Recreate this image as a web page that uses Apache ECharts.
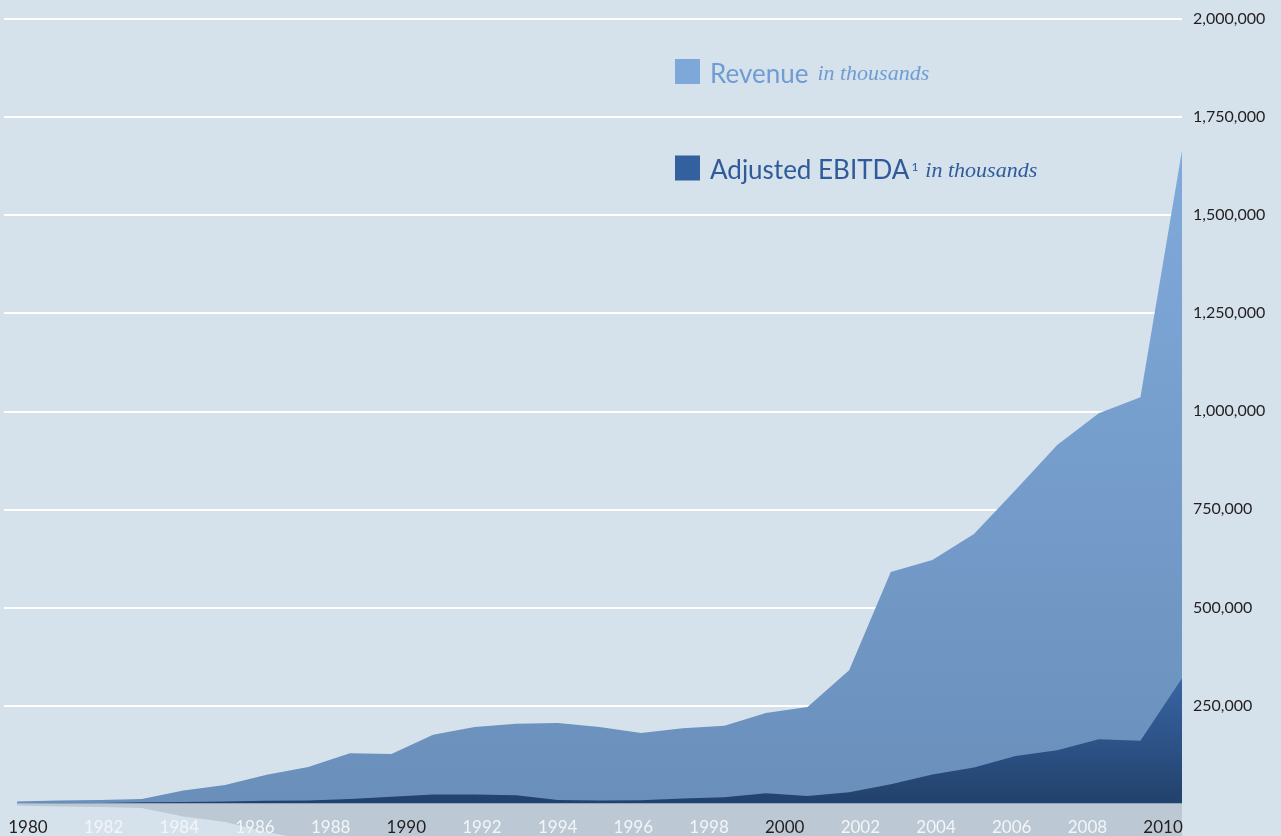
<!DOCTYPE html>
<html>
<head>
<meta charset="utf-8">
<script src="https://cdn.jsdelivr.net/npm/echarts@6/dist/echarts.min.js"></script>
<style>
  html, body { margin: 0; padding: 0; background: #d5e1eb; }
  #chart { width: 1281px; height: 836px; }
</style>
</head>
<body>
<div id="chart"></div>
<script>
// data points (29 reporting periods, evenly spaced across the plot)
const periods = ['1982', '1983', '1984', '1985', '1986', '1987', '1988', '1989', '1990', '1991',
  '1992', '1993', '1994', '1995', '1996', '1997', '1998', '1999', '2000', '2001',
  '2002', '2003', '2004', '2005', '2006', '2007', '2008', '2009', '2010'];

// in thousands
const revenue = [5000, 7500, 9000, 11500, 33000, 47000, 73000, 93000, 128000, 126000,
  175000, 195000, 203000, 205000, 195000, 180000, 192000, 198000, 231000, 246000,
  340000, 590000, 621000, 687000, 799000, 914000, 995000, 1036000, 1665000];

const ebitda = [500, 1000, 1500, 3000, 4000, 5000, 7000, 7500, 11500, 17000,
  23000, 23000, 21000, 9000, 7500, 8000, 13000, 16000, 26000, 19000,
  28500, 49000, 74000, 92000, 121000, 136000, 164000, 160000, 319000];

// axis labels
const yearLabels = ['1980', '1981', '1982', '1983', '1984', '1985', '1986', '1987', '1988', '1989',
  '1990', '1991', '1992', '1993', '1994', '1995', '1996', '1997', '1998', '1999',
  '2000', '2001', '2002', '2003', '2004', '2005', '2006', '2007', '2008', '2009', '2010'];
const darkYears = ['1980', '1990', '2000', '2010'];

const chart = echarts.init(document.getElementById('chart'));
const fmt = (v) => v.toLocaleString('en-US');
const sans = 'Lato';
const serif = 'Liberation Serif';

// no white line at zero, white lines above
const gridColors = ['rgba(255,255,255,0)', '#fff', '#fff', '#fff', '#fff', '#fff', '#fff', '#fff', '#fff'];

chart.setOption({
  animation: false,
  backgroundColor: '#d5e1eb',
  legend: {
    orient: 'vertical',
    left: 675,
    top: 59,
    padding: 0,
    icon: 'rect',
    itemWidth: 25,
    itemHeight: 25,
    itemGap: 68,
    selectedMode: false,
    data: [
      { name: 'Revenue', itemStyle: { color: '#7ea8d9' } },
      { name: 'Adjusted EBITDA', itemStyle: { color: '#33609f' } },
    ],
    formatter: (name) =>
      name === 'Revenue'
        ? '{rev|Revenue}{revi|in thousands}'
        : '{ebit|Adjusted EBITDA}{sup|1}{ebiti|in thousands}',
    textStyle: {
      padding: [6, 0, 0, 0],
      rich: {
        rev: { fontFamily: sans, fontSize: 26, color: '#6f9cd3', lineHeight: 26, padding: [0, 0, 0, 5] },
        revi: { fontFamily: serif, fontStyle: 'italic', fontSize: 22, color: '#6f9cd3', padding: [0, 0, 0, 9] },
        ebit: { fontFamily: sans, fontSize: 26, color: '#2f5b9b', lineHeight: 26, padding: [0, 0, 0, 5] },
        sup: { fontFamily: sans, fontSize: 12, color: '#2f5b9b', verticalAlign: 'top', padding: [3, 0, 0, 2] },
        ebiti: { fontFamily: serif, fontStyle: 'italic', fontSize: 22, color: '#2f5b9b', padding: [0, 0, 0, 7] },
      },
    },
  },
  grid: [
    { left: 4, right: 99, top: 19, bottom: 32.5 },   // gridlines + value labels
    { left: 17, right: 99, top: 19, bottom: 32.5 },  // areas
    { left: 9, right: 99, top: 19, bottom: 32.5 },   // year labels
    { left: 17, right: 99, top: 803.5, bottom: 0 },  // reflection band
  ],
  xAxis: [
    { gridIndex: 0, type: 'category', data: yearLabels, show: false },
    { gridIndex: 1, type: 'category', data: periods, boundaryGap: false, show: false },
    {
      gridIndex: 2,
      type: 'category',
      data: yearLabels,
      z: 10,
      axisLine: { show: false },
      axisTick: { show: false },
      axisLabel: {
        interval: 1,
        margin: 16,
        formatter: (v) => (darkYears.includes(v) ? `{d|${v}}` : `{w|${v}}`),
        rich: {
          d: { fontFamily: sans, fontSize: 17, color: '#231f20' },
          w: { fontFamily: sans, fontSize: 17, color: '#f3f6f9' },
        },
      },
    },
    { gridIndex: 3, type: 'category', data: periods, boundaryGap: false, show: false },
  ],
  yAxis: [
    {
      gridIndex: 0,
      type: 'value',
      position: 'right',
      min: 0,
      max: 2000000,
      interval: 250000,
      axisLine: { show: false },
      axisTick: { show: false },
      splitLine: { show: true, lineStyle: { color: gridColors, width: 2 } },
      axisLabel: {
        margin: 11,
        fontFamily: sans,
        fontSize: 16,
        color: '#231f20',
        formatter: (v) => (v === 0 ? '' : fmt(v)),
      },
    },
    { gridIndex: 1, type: 'value', min: 0, max: 2000000, show: false },
    { gridIndex: 2, type: 'value', show: false },
    { gridIndex: 3, type: 'value', min: -83000, max: 0, show: false },
  ],
  series: [
    {
      name: 'Revenue',
      type: 'line',
      xAxisIndex: 1,
      yAxisIndex: 1,
      data: revenue,
      symbol: 'none',
      lineStyle: { width: 0 },
      itemStyle: { color: '#7ea8d9' },
      areaStyle: {
        opacity: 1,
        color: new echarts.graphic.LinearGradient(0, 0, 0, 1, [
          { offset: 0, color: '#80aadb' },
          { offset: 1, color: '#6a8fbb' },
        ]),
      },
    },
    {
      name: 'Adjusted EBITDA',
      type: 'line',
      xAxisIndex: 1,
      yAxisIndex: 1,
      data: ebitda,
      symbol: 'none',
      lineStyle: { width: 0 },
      itemStyle: { color: '#33609f' },
      areaStyle: {
        opacity: 1,
        color: new echarts.graphic.LinearGradient(0, 0, 0, 1, [
          { offset: 0, color: '#3865a4' },
          { offset: 1, color: '#22416b' },
        ]),
      },
    },
    {
      name: 'reflection',
      type: 'line',
      xAxisIndex: 3,
      yAxisIndex: 3,
      data: revenue.map((v) => -v),
      symbol: 'none',
      silent: true,
      z: 1,
      lineStyle: { width: 0 },
      itemStyle: { color: '#bcc8d4' },
      areaStyle: { opacity: 1, color: '#bcc8d4' },
    },
  ],
});

window.addEventListener('resize', () => chart.resize());
</script>
</body>
</html>
